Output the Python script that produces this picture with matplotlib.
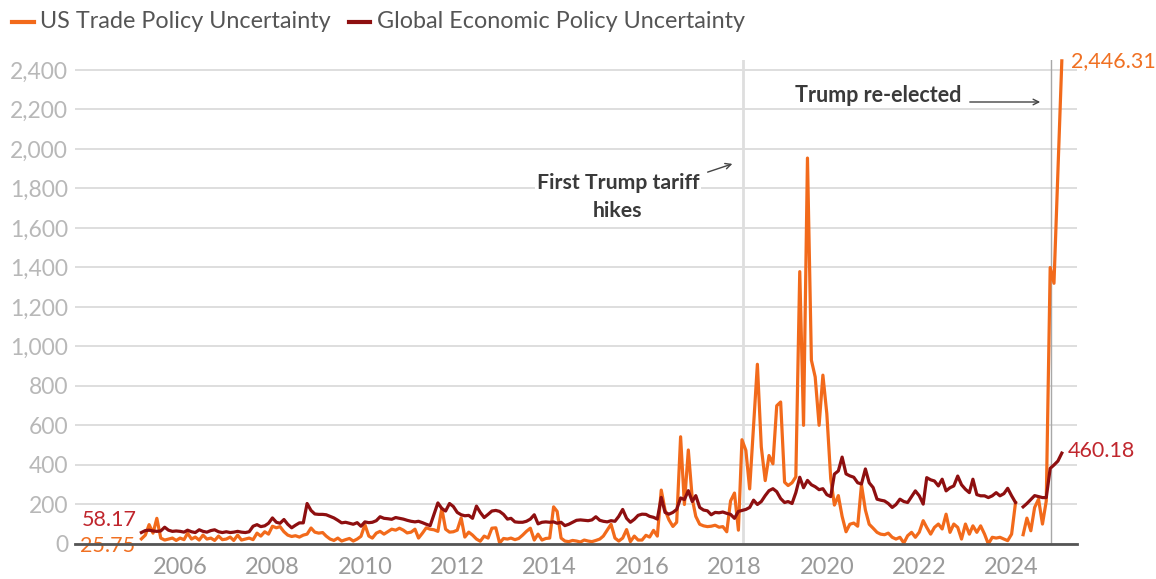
import matplotlib.pyplot as plt
import numpy as np
import pandas as pd
from matplotlib.lines import Line2D

plt.rcParams['font.family'] = ['Lato', 'DejaVu Sans']

nan = np.nan

##! Monthly data, Mar 2005 .. Feb 2025
start_month = '2005-03-01'

trade_policy = [
    25.75, 45, 98, 55, 130, 30, 20, 25, 30, 18,                # 2005
    30, 22, 55, 25, 35, 20, 45, 25, 30, 18, 40, 22,            # 2006
    25, 35, 18, 45, 20, 25, 30, 22, 55, 40, 62, 50,            # 2007
    90, 82, 88, 62, 45, 38, 42, 35, 45, 50, 81, 60,            # 2008
    55, 58, 40, 25, 18, 30, 15, 22, 28, 15, 25, 39,            # 2009
    98, 40, 30, 55, 64, 50, 62, 75, 70, 80, 70, 56,            # 2010
    60, 75, 30, 55, 82, 75, 72, 64, 180, 75, 60, 62,           # 2011
    70, 132, 35, 60, 45, 25, 14, 40, 30, 80, 82, 5,            # 2012
    28, 25, 30, 22, 28, 45, 64, 80, 20, 50, 20, 28,            # 2013
    30, 188, 165, 30, 15, 12, 18, 15, 10, 20, 15, 12,          # 2014
    18, 25, 40, 70, 100, 30, 15, 30, 73, 12, 40, 20,           # 2015
    20, 44, 35, 69, 40, 273, 172, 122, 89, 110, 543, 200,      # 2016
    476, 230, 140, 100, 92, 88, 90, 95, 85, 88, 62, 218,       # 2017
    258, 70, 528, 474, 279, 600, 910, 491, 321, 448, 406, 700, # 2018
    719, 313, 296, 310, 340, 1379, 601, 1954, 931, 846, 601, 855,  # 2019
    660, 330, 197, 245, 140, 62, 100, 106, 90, 300, 172, 100,  # 2020
    80, 59, 50, 47, 55, 34, 25, 34, 5, 42, 59, 34,             # 2021
    60, 118, 84, 50, 84, 101, 76, 151, 59, 101, 84, 25,        # 2022
    101, 50, 92, 59, 92, 50, 0, 34, 30, 34, 25, 17,            # 2023
    50, 210, nan, 47, 131, 67, 185, 227, 101, 218, 1400, 1320, # 2024
    1880, 2446.31,                                             # 2025
]

global_epu = [
    58.17, 68, 70, 66, 64, 66, 85, 70, 64, 66,                 # 2005
    64, 60, 70, 62, 58, 72, 64, 60, 68, 72, 62, 58,            # 2006
    62, 58, 60, 64, 60, 58, 62, 90, 98, 88, 92, 105,           # 2007
    132, 110, 105, 124, 100, 82, 95, 107, 107, 205, 170, 152,  # 2008
    150, 150, 148, 140, 132, 120, 107, 110, 105, 100, 108, 90, # 2009
    112, 108, 110, 118, 138, 130, 128, 125, 134, 130, 126, 120,  # 2010
    115, 112, 115, 108, 100, 93, 150, 208, 180, 167, 205, 190, # 2011
    160, 148, 143, 145, 130, 192, 160, 134, 150, 167, 170, 165,  # 2012
    150, 126, 130, 112, 110, 110, 115, 126, 148, 102, 110, 112,  # 2013
    110, 112, 105, 110, 93, 100, 110, 120, 122, 120, 118, 122, # 2014
    138, 120, 115, 112, 118, 115, 140, 175, 130, 110, 125, 145,  # 2015
    151, 150, 140, 135, 126, 236, 160, 151, 160, 175, 233, 225,  # 2016
    270, 215, 245, 185, 172, 168, 148, 160, 158, 162, 155, 150,  # 2017
    130, 165, 170, 175, 185, 222, 200, 215, 245, 270, 280, 265,  # 2018
    230, 210, 215, 205, 260, 338, 285, 322, 300, 290, 275, 280,  # 2019
    250, 240, 354, 370, 440, 355, 345, 338, 310, 304, 380, 310,  # 2020
    286, 227, 222, 218, 205, 185, 200, 227, 215, 210, 240, 269,  # 2021
    244, 202, 336, 325, 319, 294, 328, 269, 285, 294, 344, 300,  # 2022
    277, 260, 328, 250, 244, 244, 235, 244, 260, 244, 255, 282,  # 2023
    244, 210, nan, 188, 205, 225, 245, 240, 235, 235, 383, 400,  # 2024
    420, 460.18,                                               # 2025
]

labels = ['US Trade Policy Uncertainty', 'Global Economic Policy Uncertainty']
tick_years = list(range(2006, 2025, 2))
y_ticks = list(range(0, 2401, 200))

months = pd.date_range(start_month, periods=len(trade_policy), freq='MS')

ORANGE = '#f26a1b'
DARKRED = '#8e0f10'
RED_TXT = '#c0262d'
ORANGE_TXT = '#f07022'

#-- Figure and axes:
W, H = 1156, 579
fig = plt.figure(figsize=(W / 100, H / 100), dpi=100)
ax = fig.add_axes([75 / W, 35 / H, (1077 - 75) / W, (544 - 60) / H])

ax.set_xlim(pd.Timestamp('2003-09-23'), pd.Timestamp('2025-06-01'))
ax.set_ylim(0, 2450.6)

ax.set_yticks(y_ticks)
ax.set_yticklabels([f'{v:,}' for v in y_ticks])
ax.set_xticks([pd.Timestamp(f'{y}-01-01') for y in tick_years])
ax.set_xticklabels([str(y) for y in tick_years])
ax.tick_params(axis='y', length=0, pad=5, labelsize=16.5, labelcolor='#b8b8b8')
ax.tick_params(axis='x', length=0, pad=9, labelsize=17, labelcolor='#9a9a9a')

ax.yaxis.grid(True, color='#d4d4d4', lw=1.1)
ax.set_axisbelow(True)
for s in ['top', 'right', 'left']:
    ax.spines[s].set_visible(False)
ax.spines['bottom'].set_color('#555555')
ax.spines['bottom'].set_linewidth(2)
ax.spines['bottom'].set_zorder(5)

#-- Event markers:
ax.axvline(pd.Timestamp('2018-03-08'), color='#dedede', lw=2, zorder=1)
ax.axvline(pd.Timestamp('2024-11-05'), color='#a8a8a8', lw=1, zorder=1)

#-- Series:
ax.plot(months, trade_policy, color=ORANGE, lw=2.3, zorder=3, clip_on=False,
        solid_joinstyle='round')
ax.plot(months, global_epu, color=DARKRED, lw=2.3, zorder=4, clip_on=False,
        solid_joinstyle='round')

#-- End labels:
ax.annotate(f'{global_epu[0]:.2f}', (months[0], global_epu[0]),
            xytext=(-5, 13), textcoords='offset pixels', ha='right',
            va='center', fontsize=15.5, color=RED_TXT)
ax.annotate(f'{trade_policy[0]:.2f}', (months[0], trade_policy[0]),
            xytext=(-6, -7), textcoords='offset pixels', ha='right',
            va='center', fontsize=15.5, color=ORANGE_TXT)
ax.annotate(f'{trade_policy[-1]:,.2f}', (months[-1], trade_policy[-1]),
            xytext=(9, 0), textcoords='offset pixels', ha='left',
            va='center', fontsize=15.5, color=ORANGE_TXT, annotation_clip=False)
ax.annotate(f'{global_epu[-1]:.2f}', (months[-1], global_epu[-1]),
            xytext=(6, 2), textcoords='offset pixels', ha='left',
            va='center', fontsize=15.5, color=RED_TXT, annotation_clip=False)

#-- Event annotations:
box = dict(facecolor='white', edgecolor='none', pad=1)
fig.text(618 / W, 1 - 197 / H, 'First Trump tariff\nhikes', ha='center',
         va='center', fontsize=15.3, fontweight='bold', color='#3a3a3a',
         linespacing=1.55, bbox=box)
ax.annotate('', xy=(735, H - 163), xytext=(705, H - 173),
            xycoords='figure pixels', textcoords='figure pixels',
            arrowprops=dict(arrowstyle='->', color='#444444', lw=1))
fig.text(878 / W, 1 - 96 / H, 'Trump re-elected', ha='center', va='center',
         fontsize=15.5, fontweight='bold', color='#3a3a3a', bbox=box)
ax.annotate('', xy=(1043, H - 102), xytext=(967, H - 102),
            xycoords='figure pixels', textcoords='figure pixels',
            arrowprops=dict(arrowstyle='->', color='#444444', lw=1))

#-- Legend:
for (x0, x1, xt), col, lab in zip([(12, 34, 40), (349, 370, 377)],
                                  [ORANGE, DARKRED], labels):
    fig.add_artist(Line2D([x0 / W, x1 / W], [1 - 22 / H] * 2, color=col,
                          lw=3, transform=fig.transFigure))
    fig.text(xt / W, 1 - 22 / H, lab, ha='left', va='center', fontsize=16.8,
             color='#555555')

fig.savefig('out.png', dpi=100)
